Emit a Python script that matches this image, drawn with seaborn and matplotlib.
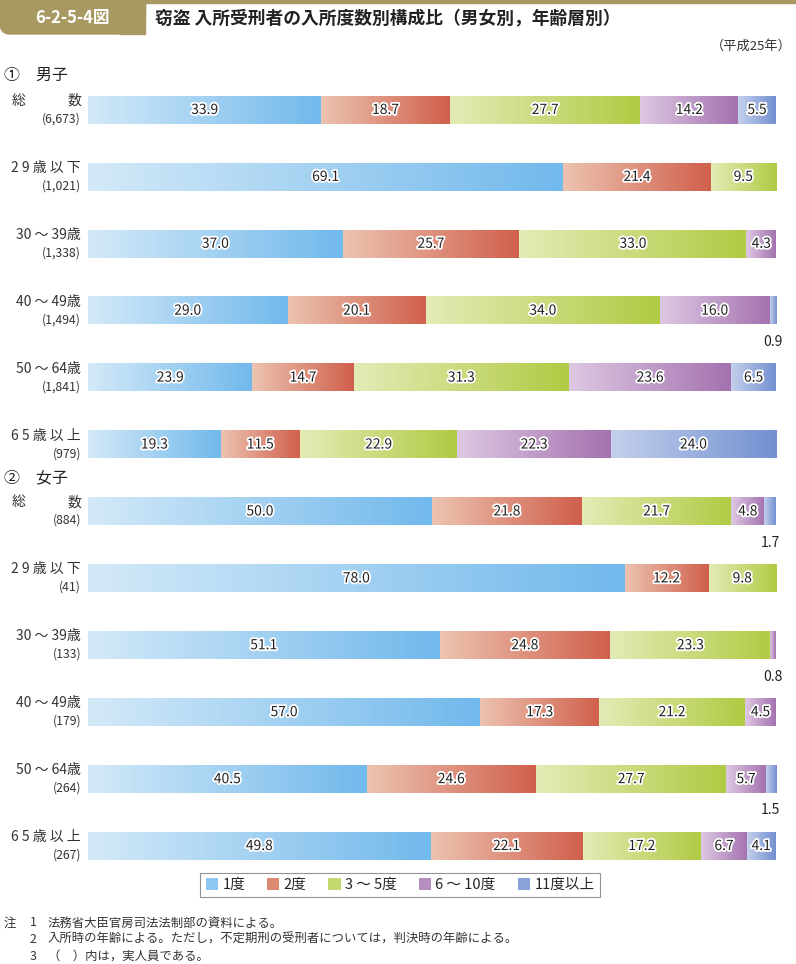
import numpy as np
import pandas as pd
import seaborn as sns
import matplotlib.pyplot as plt
from matplotlib import patheffects
from matplotlib.colors import LinearSegmentedColormap
from matplotlib.patches import Patch, Rectangle, FancyBboxPatch
from matplotlib.transforms import blended_transform_factory

sns.set_theme(style="white")
plt.rcParams['font.family'] = ['Noto Sans CJK JP', 'DejaVu Sans']

# --- data (percent, 平成25年) ---
row_keys = ["m_total", "m_29", "m_30", "m_40", "m_50", "m_65",
            "f_total", "f_29", "f_30", "f_40", "f_50", "f_65"]
row_names = ["総数", "2 9 歳 以 下", "30 ～ 39歳", "40 ～ 49歳", "50 ～ 64歳", "6 5 歳 以 上",
             "総数", "2 9 歳 以 下", "30 ～ 39歳", "40 ～ 49歳", "50 ～ 64歳", "6 5 歳 以 上"]
row_counts = ["6,673", "1,021", "1,338", "1,494", "1,841", "979",
              "884", "41", "133", "179", "264", "267"]

categories = ["1度", "2度", "3 ～ 5度", "6 ～ 10度", "11度以上"]
once = [33.9, 69.1, 37.0, 29.0, 23.9, 19.3, 50.0, 78.0, 51.1, 57.0, 40.5, 49.8]
twice = [18.7, 21.4, 25.7, 20.1, 14.7, 11.5, 21.8, 12.2, 24.8, 17.3, 24.6, 22.1]
three_five = [27.7, 9.5, 33.0, 34.0, 31.3, 22.9, 21.7, 9.8, 23.3, 21.2, 27.7, 17.2]
six_ten = [14.2, 0.0, 4.3, 16.0, 23.6, 22.3, 4.8, 0.0, 0.8, 4.5, 5.7, 6.7]
eleven_plus = [5.5, 0.0, 0.0, 0.9, 6.5, 24.0, 1.7, 0.0, 0.0, 0.0, 1.5, 4.1]

series = [once, twice, three_five, six_ten, eleven_plus]
grad_colors = [("#d3e9f8", "#72b9ec"), ("#ecc3b0", "#d0604c"), ("#e3ebb5", "#b0cb44"),
               ("#ddc8e2", "#a472b0"), ("#c3d0ec", "#7390d0")]
mid_colors = ["#8ec8f0", "#dc8a72", "#c4d870", "#b58fc0", "#8aa2d8"]

fig = plt.figure(figsize=(7.96, 9.64), dpi=100)
ax = fig.add_axes([88 / 796, 1 - 879.5 / 964, 688 / 796, 803 / 964])

left = np.zeros(len(row_keys))
for cat, vals, col in zip(categories, series, mid_colors):
    df = pd.DataFrame({"row": row_keys, "pct": vals})
    sns.barplot(data=df, x="pct", y="row", order=row_keys, orient="y",
                left=left.copy(), color=col, width=0.41, ax=ax,
                linewidth=0, saturation=1)
    left += np.array(vals)

ax.set_axis_off()

# gradient fill and value labels
stroke = [patheffects.withStroke(linewidth=2.6, foreground="white")]
for container, (c0, c1) in zip(ax.containers, grad_colors):
    cmap = LinearSegmentedColormap.from_list("g", [c0, c1])
    for bar in container:
        w = bar.get_width()
        if w <= 0:
            continue
        x0, y0, h = bar.get_x(), bar.get_y(), bar.get_height()
        ax.imshow(np.linspace(0, 1, 64).reshape(1, -1), cmap=cmap, aspect="auto",
                  extent=(x0, x0 + w, y0 + h, y0), interpolation="bilinear", zorder=2)
        bar.set_facecolor("none")
        cy = y0 + h / 2
        if w >= 3:
            ax.text(x0 + w / 2, cy, f"{w:.1f}", ha="center", va="center", fontsize=10,
                    color="#222222", path_effects=stroke, zorder=4)
        else:
            ax.annotate(f"{w:.1f}", xy=(x0 + w / 2, cy), xytext=(0, -22.5),
                        textcoords="offset points", ha="center", va="center",
                        fontsize=10, color="#222222", zorder=4)
ax.set_xlim(0, 100)
ax.set_ylim(len(row_keys) - 0.5, -0.5)

# row labels
trans = blended_transform_factory(fig.transFigure, ax.transData)
lab = dict(textcoords="offset points", va="center", color="#333333", xycoords=trans)
for i, (name, cnt) in enumerate(zip(row_names, row_counts)):
    if name == "総数":
        ax.annotate("総", xy=(12 / 796, i), xytext=(0, 6.5), ha="left", fontsize=10, **lab)
        ax.annotate("数", xy=(81 / 796, i), xytext=(0, 6.5), ha="right", fontsize=10, **lab)
    else:
        ax.annotate(name, xy=(81 / 796, i), xytext=(0, 6.5), ha="right", fontsize=10, **lab)
    ax.annotate(f"({cnt})", xy=(81 / 796, i), xytext=(0, -6.5), ha="right", fontsize=8.8, **lab)

# header
gold = "#a89963"
fig.patches.append(Rectangle((0, 1 - 3 / 964), 1, 3 / 964, transform=fig.transFigure,
                             color=gold, zorder=0))
fig.patches.append(FancyBboxPatch((0, 1 - 34 / 964), 145 / 796, 34 / 964,
                                  boxstyle="round,pad=0,rounding_size=0.012",
                                  transform=fig.transFigure, color=gold, zorder=0))
fig.patches.append(Rectangle((0, 1 - 18 / 964), 145 / 796, 18 / 964,
                             transform=fig.transFigure, color=gold, zorder=0))
fig.patches.append(Rectangle((120 / 796, 1 - 34 / 964), 25 / 796, 34 / 964,
                             transform=fig.transFigure, color=gold, zorder=0))
fig.text(72 / 796, 1 - 18 / 964, "6-2-5-4図", color="white", fontsize=12, fontweight="bold",
         ha="center", va="center")
fig.text(155 / 796, 1 - 18 / 964, "窃盗 入所受刑者の入所度数別構成比（男女別，年齢層別）",
         fontsize=12.8, fontweight="bold", ha="left", va="center", color="#222222")
fig.text(792 / 796, 1 - 46 / 964, "（平成25年）", fontsize=9.5, ha="right", va="center",
         color="#333333")
fig.text(4 / 796, 1 - 75 / 964, "①　男子", fontsize=11.5, ha="left", va="center", color="#222222")
fig.text(4 / 796, 1 - 478 / 964, "②　女子", fontsize=11.5, ha="left", va="center", color="#222222")

# legend
handles = [Patch(facecolor=c, edgecolor="none") for c in mid_colors]
leg = fig.legend(handles, categories, loc="center", bbox_to_anchor=(400 / 796, 1 - 885 / 964),
                 ncol=5, fontsize=10.5, frameon=True, fancybox=False, handlelength=0.85,
                 handleheight=0.85, handletextpad=0.3, columnspacing=1.5, borderpad=0.35)
leg.get_frame().set_edgecolor("#777777")
leg.get_frame().set_linewidth(0.8)

# notes
notes = [("注", "1", "法務省大臣官房司法法制部の資料による。"),
         ("", "2", "入所時の年齢による。ただし，不定期刑の受刑者については，判決時の年齢による。"),
         ("", "3", "（　）内は，実人員である。")]
for k, (a, n, t) in enumerate(notes):
    y = 1 - (923 + k * 16.5) / 964
    fig.text(4 / 796, y, a, fontsize=8.9, va="center", color="#333333")
    fig.text(30 / 796, y, n, fontsize=8.9, va="center", color="#333333")
    fig.text(48 / 796, y, t, fontsize=8.9, va="center", color="#333333")

fig.savefig("out.png", dpi=100)
